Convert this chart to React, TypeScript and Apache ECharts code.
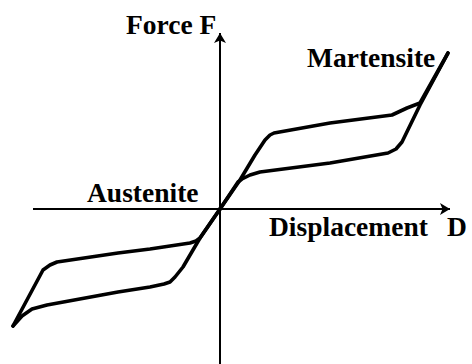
import React, { useEffect, useRef } from "react";
import * as echarts from "echarts";

// Hysteresis loop of a shape-memory (superelastic) element.
// Values: displacement D (x) and force F (y), arbitrary units, origin at 0.
const positiveLoading: [number, number][] = [
  [0, 0], [20, 29], [35, 54], [45, 69], [50, 74], [54, 76], [110, 86], [172, 94],
  [187, 101], [200, 106], [228, 156],
];
const positiveUnloading: [number, number][] = [
  [228, 156], [200, 104], [182, 67], [176, 60], [168, 56], [110, 46], [40, 37],
  [30, 34], [22, 30], [18, 27], [0, 0],
];
const negativeLoading: [number, number][] = [
  [0, 0], [-20, -29], [-37, -58], [-45, -68], [-50, -73], [-56, -75], [-70, -78],
  [-102, -83], [-173, -96], [-188, -100], [-198, -107], [-207, -117],
];
const negativeUnloading: [number, number][] = [
  [-207, -117], [-177, -61], [-170, -56], [-163, -53], [-102, -44], [-70, -40],
  [-30, -34], [-24, -32], [-20, -29], [0, 0],
];

// Axis extents (data units) for the drawn arrows.
const xAxisRange: [number, number] = [-187, 230];
const yAxisRange: [number, number] = [-155, 176];

const labels = [
  { text: "Force F", x: 126, y: 24 },
  { text: "Martensite", x: 307, y: 57 },
  { text: "Austenite", x: 87, y: 192 },
  { text: "Displacement", x: 269, y: 226 },
  { text: "D", x: 447, y: 226 },
];

export default function App() {
  const ref = useRef<HTMLDivElement>(null);
  useEffect(() => {
    if (!ref.current) return;
    const chart = echarts.init(ref.current, undefined, { renderer: "svg" });
    const branch = (data: [number, number][]) => ({
      type: "line",
      data,
      showSymbol: false,
      symbol: "none",
      clip: false,
      smooth: false,
      lineStyle: { color: "#000", width: 3.6, cap: "round", join: "round" },
      silent: true,
      z: 3,
    });
    const hiddenAxis = {
      type: "value",
      axisLine: { show: false },
      axisTick: { show: false },
      axisLabel: { show: false },
      splitLine: { show: false },
    };
    chart.setOption({
      animation: false,
      backgroundColor: "#fff",
      grid: { left: 0, right: 0, top: 0, bottom: 0 },
      xAxis: { ...hiddenAxis, min: -220, max: 252 },
      yAxis: { ...hiddenAxis, min: -155, max: 209 },
      series: [
        {
          type: "line",
          data: [],
          silent: true,
          z: 2,
          markLine: {
            silent: true,
            symbol: ["none", "arrow"],
            symbolSize: [9, 10],
            label: { show: false },
            lineStyle: { color: "#000", width: 2, type: "solid" },
            emphasis: { disabled: true },
            data: [
              [{ coord: [xAxisRange[0], 0] }, { coord: [xAxisRange[1], 0] }],
              [{ coord: [0, yAxisRange[0]] }, { coord: [0, yAxisRange[1]] }],
            ],
          },
        },
        branch(positiveLoading),
        branch(positiveUnloading),
        branch(negativeLoading),
        branch(negativeUnloading),
      ],
      graphic: labels.map((l) => ({
        type: "text",
        x: l.x,
        y: l.y,
        style: {
          text: l.text,
          fill: "#000",
          fontFamily: "Liberation Serif",
          fontWeight: "bold",
          fontSize: 27.5,
          textAlign: "left",
          verticalAlign: "middle",
        },
        silent: true,
      })),
    });
    return () => chart.dispose();
  }, []);
  return (
    <div
      ref={ref}
      style={{ position: "fixed", left: 0, top: 0, width: 472, height: 364, background: "#fff" }}
    />
  );
}
